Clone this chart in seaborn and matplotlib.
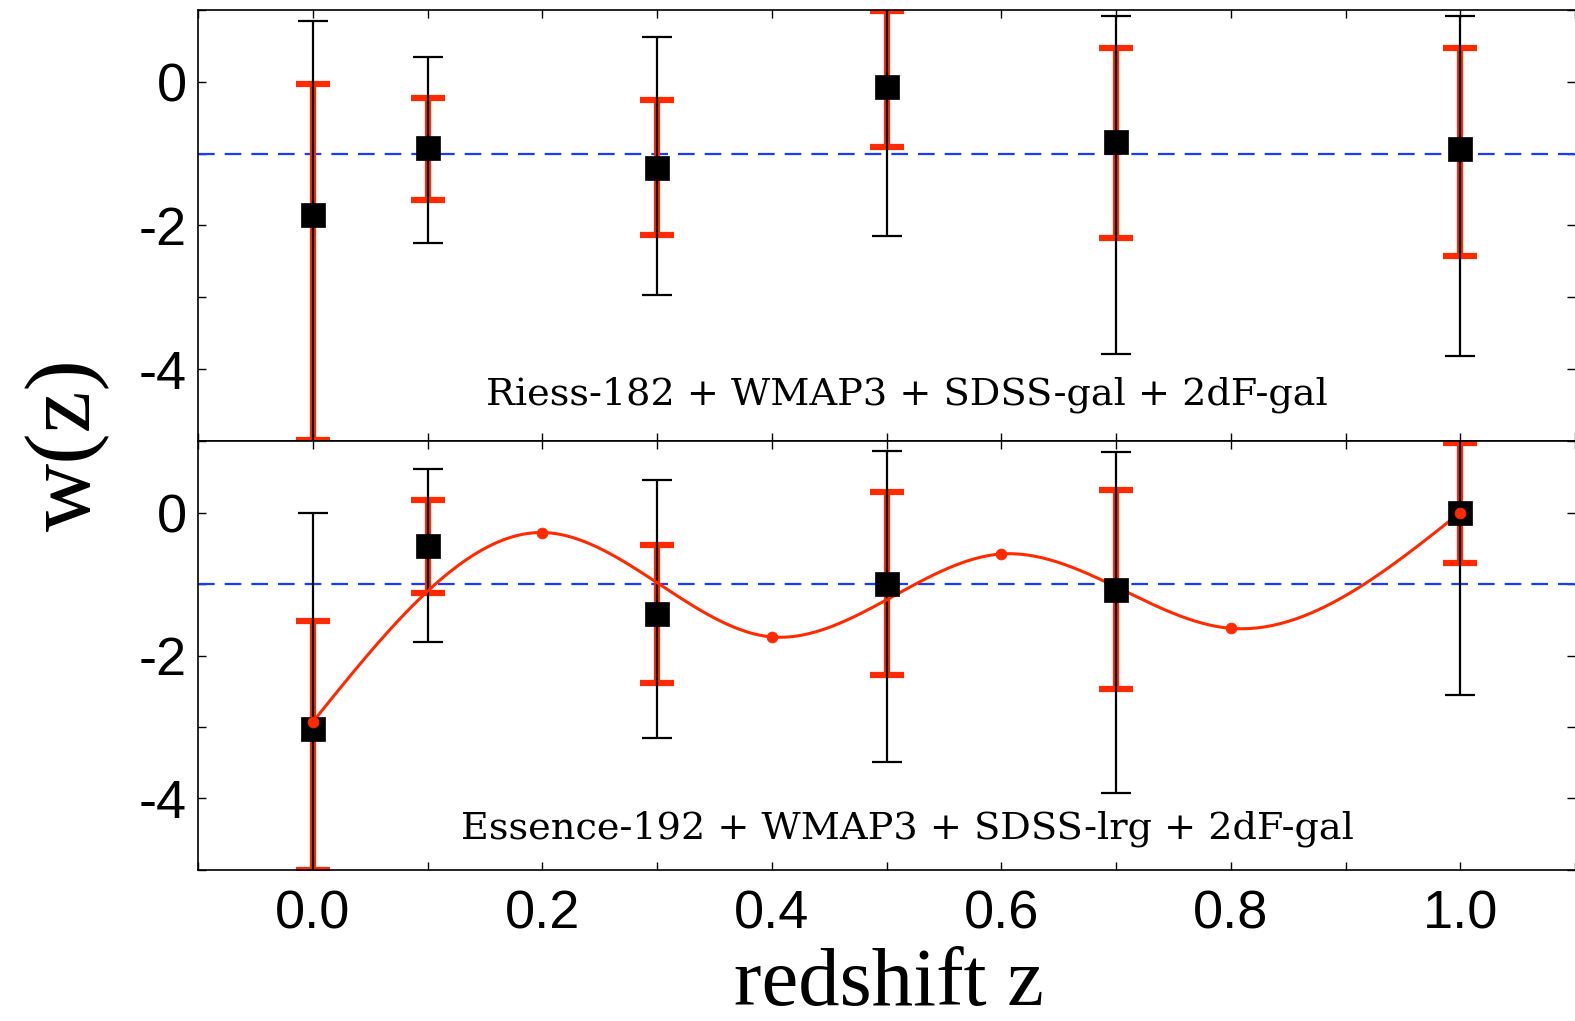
import numpy as np
import matplotlib
matplotlib.use("Agg")
import matplotlib.pyplot as plt
import seaborn as sns
import pandas as pd
from matplotlib.ticker import MultipleLocator, FuncFormatter

# ---------------- data ----------------
z_bins = [0.0, 0.1, 0.3, 0.5, 0.7, 1.0]

# Riess-182 + WMAP3 + SDSS-gal + 2dF-gal
top_w = [-1.86, -0.92, -1.20, -0.07, -0.84, -0.94]
top_black_hi = [0.84, 0.35, 0.62, 1.60, 0.92, 0.91]
top_black_lo = [-6.00, -2.25, -2.97, -2.15, -3.79, -3.81]
top_red_hi = [-0.03, -0.23, -0.25, 0.98, 0.47, 0.47]
top_red_lo = [-4.98, -1.64, -2.13, -0.91, -2.17, -2.43]

# Essence-192 + WMAP3 + SDSS-lrg + 2dF-gal
bot_w = [-3.03, -0.47, -1.42, -1.00, -1.09, 0.00]
bot_black_hi = [0.00, 0.61, 0.46, 0.86, 0.85, 1.60]
bot_black_lo = [-6.00, -1.81, -3.15, -3.49, -3.93, -2.55]
bot_red_hi = [-1.52, 0.18, -0.45, 0.28, 0.32, 0.97]
bot_red_lo = [-5.00, -1.13, -2.38, -2.27, -2.47, -0.71]

# reconstruction nodes (red curve)
node_z = [0.0, 0.2, 0.4, 0.6, 0.8, 1.0]
node_w = [-2.93, -0.28, -1.74, -0.58, -1.62, 0.00]

labels = ["Riess-182 + WMAP3 + SDSS-gal + 2dF-gal",
          "Essence-192 + WMAP3 + SDSS-lrg + 2dF-gal"]


def natural_spline(x, y, xs):
    x = np.asarray(x, float); y = np.asarray(y, float)
    n = len(x); h = np.diff(x)
    A = np.zeros((n, n)); b = np.zeros(n)
    A[0, 0] = 1; A[-1, -1] = 1
    for i in range(1, n - 1):
        A[i, i - 1] = h[i - 1]; A[i, i] = 2 * (h[i - 1] + h[i]); A[i, i + 1] = h[i]
        b[i] = 6 * ((y[i + 1] - y[i]) / h[i] - (y[i] - y[i - 1]) / h[i - 1])
    M = np.linalg.solve(A, b)
    idx = np.clip(np.searchsorted(x, xs) - 1, 0, n - 2)
    x0 = x[idx]; x1 = x[idx + 1]; hh = x1 - x0
    t0 = x1 - xs; t1 = xs - x0
    return (M[idx] * t0**3 / (6 * hh) + M[idx + 1] * t1**3 / (6 * hh)
            + (y[idx] / hh - M[idx] * hh / 6) * t0
            + (y[idx + 1] / hh - M[idx + 1] * hh / 6) * t1)


sns.set_theme(style="ticks")
plt.rcParams['axes.unicode_minus'] = False
plt.rcParams['font.family'] = ['Liberation Sans', 'DejaVu Sans']
plt.rcParams['text.color'] = 'black'
plt.rcParams['axes.labelcolor'] = 'black'
plt.rcParams['xtick.color'] = 'black'
plt.rcParams['ytick.color'] = 'black'
plt.rcParams['axes.edgecolor'] = 'black'

RED = "#ff2a00"
BLUE = "#1a3cff"

fig = plt.figure(figsize=(15.75, 10.21), dpi=100)
left, right = 198 / 1575, 1.0
y_top, y_mid, y_bot = 1 - 10 / 1021, 1 - 441 / 1021, 1 - 870 / 1021
ax1 = fig.add_axes([left, y_mid, right - left, y_top - y_mid])
ax2 = fig.add_axes([left, y_bot, right - left, y_mid - y_bot], sharex=ax1)

panels = [
    (ax1, top_w, top_black_hi, top_black_lo, top_red_hi, top_red_lo, labels[0], -4.36),
    (ax2, bot_w, bot_black_hi, bot_black_lo, bot_red_hi, bot_red_lo, labels[1], -4.43),
]

for ax, w, bhi, blo, rhi, rlo, lab, ly in panels:
    w = np.array(w)
    ax.axhline(-1, color=BLUE, lw=1.6, ls=(0, (7.5, 4.5)), zorder=1)
    # red (inner) error bars
    ax.errorbar(z_bins, w, yerr=[w - np.array(rlo), np.array(rhi) - w], fmt='none',
                ecolor=RED, elinewidth=4.5, capsize=12.5, capthick=4.5, zorder=2,
                solid_capstyle='round', dash_capstyle='round')
    # black (outer) error bars
    ax.errorbar(z_bins, w, yerr=[w - np.array(blo), np.array(bhi) - w], fmt='none',
                ecolor='black', elinewidth=1.6, capsize=11, capthick=1.6, zorder=3)
    df = pd.DataFrame({"z": z_bins, "w": w})
    sns.scatterplot(data=df, x="z", y="w", marker='s', s=310, color='black',
                    edgecolor='black', linewidth=0.5, ax=ax, zorder=5, legend=False)
    ax.text(0.518, ly, lab, ha='center', va='center', fontsize=27.5,
            family='DejaVu Serif', color='black', zorder=6)
    ax.set_ylim(-5, 1)
    ax.yaxis.set_major_locator(MultipleLocator(2))
    ax.yaxis.set_minor_locator(MultipleLocator(1))
    ax.xaxis.set_major_locator(MultipleLocator(0.2))
    ax.xaxis.set_minor_locator(MultipleLocator(0.1))
    ax.yaxis.set_major_formatter(FuncFormatter(lambda v, p: "%d" % v))
    ax.tick_params(which='both', direction='in', top=True, right=True, width=1.0,
                   colors='black', labelcolor='black')
    ax.tick_params(which='major', length=6, labelsize=39, pad=8)
    ax.tick_params(which='minor', length=6)
    ax.set_ylabel("")
    ax.set_xlabel("")
    for s in ['left', 'top', 'bottom']:
        ax.spines[s].set_linewidth(1.2)
        ax.spines[s].set_color('black')
    ax.spines['right'].set_visible(False)

# red reconstruction curve
zs = np.linspace(node_z[0], node_z[-1], 300)
curve = pd.DataFrame({"z": zs, "w": natural_spline(node_z, node_w, zs)})
sns.lineplot(data=curve, x="z", y="w", color=RED, lw=2.2, ax=ax2, zorder=4,
             sort=False, estimator=None)
sns.scatterplot(x=node_z, y=node_w, color=RED, s=60, edgecolor=RED, ax=ax2,
                zorder=6, legend=False)
ax2.set_ylabel("")
ax2.set_xlabel("")

ax1.set_xlim(-0.1, 1.1)
ax1.tick_params(labelbottom=False)
ax2.xaxis.set_major_formatter(FuncFormatter(lambda v, p: "%.1f" % v))
ax2.tick_params(axis='x', pad=14)

fig.text(889 / 1575, 1 - 985 / 1021, "redshift z", ha='center', va='center',
         fontsize=59.5, family='Liberation Serif', color='black')
fig.text(68 / 1575, 1 - 445 / 1021, "w(z)", ha='center', va='center', rotation=90,
         fontsize=68, family='Liberation Serif', color='black')

fig.savefig("out.png", dpi=100)
